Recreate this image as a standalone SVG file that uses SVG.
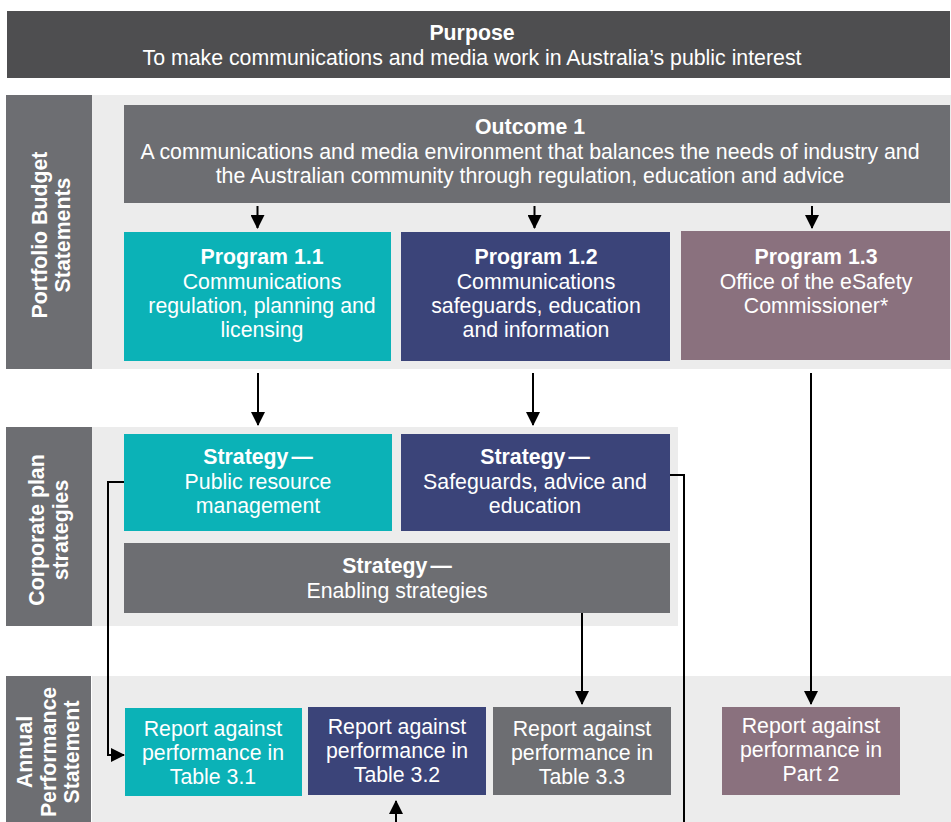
<svg xmlns="http://www.w3.org/2000/svg" width="951" height="822" viewBox="0 0 951 822">
  <style>
    text { font-family: "Liberation Sans", Arial, sans-serif; font-size: 21.3px; fill: #ffffff; text-anchor: middle; }
    .b { font-weight: bold; }
    .band { fill: #ececec; }
    .side { fill: #6d6e72; }
    .grey { fill: #6d6e72; }
    .teal { fill: #0bb2b7; }
    .navy { fill: #3b4479; }
    .mauve { fill: #8a717e; }
    .conn { stroke: #000000; stroke-width: 2; fill: none; }
  </style>
  <defs>
    <marker id="arrow" markerUnits="userSpaceOnUse" markerWidth="14" markerHeight="14" refX="13" refY="7" orient="auto">
      <path d="M0,0 L14,7 L0,14 z" fill="#000000"/>
    </marker>
  </defs>

  <rect width="951" height="822" fill="#ffffff"/>

  <!-- Purpose banner -->
  <g id="purpose">
    <rect x="7" y="11" width="943" height="67" fill="#4e4e50"/>
    <text class="b" x="472" y="40">Purpose</text>
    <text x="472" y="65">To make communications and media work in Australia’s public interest</text>
  </g>

  <!-- Section bands -->
  <g id="band-pbs">
    <rect class="band" x="92" y="95" width="859" height="274"/>
    <rect class="side" x="6" y="95" width="86" height="274"/>
    <text class="b" transform="translate(47 235) rotate(-90)">Portfolio Budget</text>
    <text class="b" transform="translate(70 235) rotate(-90)">Statements</text>
  </g>
  <g id="band-corporate">
    <rect class="band" x="92" y="427" width="586" height="199"/>
    <rect class="side" x="6" y="427" width="86" height="199"/>
    <text class="b" transform="translate(44 530) rotate(-90)">Corporate plan</text>
    <text class="b" transform="translate(68 530) rotate(-90)">strategies</text>
  </g>
  <g id="band-aps">
    <rect class="band" x="92" y="676" width="859" height="146"/>
    <rect class="side" x="6" y="676" width="85" height="146"/>
    <text class="b" transform="translate(32 752) rotate(-90)">Annual</text>
    <text class="b" transform="translate(56 752) rotate(-90)">Performance</text>
    <text class="b" transform="translate(79 752) rotate(-90)">Statement</text>
  </g>

  <!-- Outcome -->
  <g id="outcome-1">
    <rect class="grey" x="124" y="105" width="826" height="98"/>
    <text class="b" x="530" y="134">Outcome 1</text>
    <text x="530" y="159">A communications and media environment that balances the needs of industry and</text>
    <text x="530" y="183">the Australian community through regulation, education and advice</text>
  </g>

  <!-- Programs -->
  <g id="program-1-1">
    <rect class="teal" x="124" y="232" width="267" height="129"/>
    <text class="b" x="262" y="264">Program 1.1</text>
    <text x="262" y="289">Communications</text>
    <text x="262" y="313">regulation, planning and</text>
    <text x="262" y="337">licensing</text>
  </g>
  <g id="program-1-2">
    <rect class="navy" x="401" y="232" width="269" height="129"/>
    <text class="b" x="536" y="264">Program 1.2</text>
    <text x="536" y="289">Communications</text>
    <text x="536" y="313">safeguards, education</text>
    <text x="536" y="337">and information</text>
  </g>
  <g id="program-1-3">
    <rect class="mauve" x="681" y="231" width="269" height="129"/>
    <text class="b" x="816" y="264">Program 1.3</text>
    <text x="816" y="289">Office of the eSafety</text>
    <text x="816" y="313">Commissioner*</text>
  </g>

  <!-- Strategies -->
  <g id="strategy-public-resource">
    <rect class="teal" x="124" y="434" width="268" height="97"/>
    <text class="b" x="258" y="464">Strategy<tspan dx="3">—</tspan></text>
    <text x="258" y="489">Public resource</text>
    <text x="258" y="513">management</text>
  </g>
  <g id="strategy-safeguards">
    <rect class="navy" x="401" y="434" width="269" height="97"/>
    <text class="b" x="535" y="464">Strategy<tspan dx="3">—</tspan></text>
    <text x="535" y="489">Safeguards, advice and</text>
    <text x="535" y="513">education</text>
  </g>
  <g id="strategy-enabling">
    <rect class="grey" x="124" y="543" width="546" height="70"/>
    <text class="b" x="397" y="573">Strategy<tspan dx="3">—</tspan></text>
    <text x="397" y="598">Enabling strategies</text>
  </g>

  <!-- Reports -->
  <g id="report-3-1">
    <rect class="teal" x="125" y="708" width="177" height="88"/>
    <text x="213" y="736">Report against</text>
    <text x="213" y="760">performance in</text>
    <text x="213" y="784">Table 3.1</text>
  </g>
  <g id="report-3-2">
    <rect class="navy" x="308" y="707" width="178" height="88"/>
    <text x="397" y="734">Report against</text>
    <text x="397" y="758">performance in</text>
    <text x="397" y="782">Table 3.2</text>
  </g>
  <g id="report-3-3">
    <rect class="grey" x="493" y="707" width="178" height="88"/>
    <text x="582" y="736">Report against</text>
    <text x="582" y="760">performance in</text>
    <text x="582" y="784">Table 3.3</text>
  </g>
  <g id="report-part-2">
    <rect class="mauve" x="722" y="707" width="178" height="88"/>
    <text x="811" y="733">Report against</text>
    <text x="811" y="757">performance in</text>
    <text x="811" y="781">Part 2</text>
  </g>

  <!-- Connectors -->
  <g id="connectors" class="conn">
    <line x1="257.5" y1="206" x2="257.5" y2="228" marker-end="url(#arrow)"/>
    <line x1="534.5" y1="206" x2="534.5" y2="228" marker-end="url(#arrow)"/>
    <line x1="812" y1="206" x2="812" y2="228" marker-end="url(#arrow)"/>
    <line x1="258" y1="373" x2="258" y2="425" marker-end="url(#arrow)"/>
    <line x1="533" y1="373" x2="533" y2="425" marker-end="url(#arrow)"/>
    <line x1="811" y1="373" x2="811" y2="704" marker-end="url(#arrow)"/>
    <line x1="582" y1="613" x2="582" y2="704" marker-end="url(#arrow)"/>
    <polyline points="124,482 108,482 108,755 124,755" marker-end="url(#arrow)"/>
    <polyline points="670,475 684,475 684,822"/>
    <line x1="396" y1="822" x2="396" y2="801" marker-end="url(#arrow)"/>
  </g>
</svg>
